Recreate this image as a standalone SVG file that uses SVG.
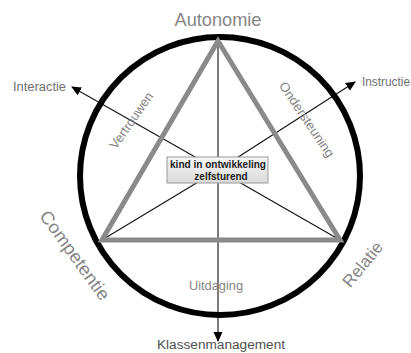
<svg xmlns="http://www.w3.org/2000/svg" width="411" height="353" viewBox="0 0 411 353">
<style>
.lbl{font-family:"Liberation Sans",Arial,sans-serif;fill:#858585;}
.big{font-size:18px;}
.mid{font-size:13px;}
.thin{stroke:#111;stroke-width:1.1;fill:none;}
.box{font-family:"Liberation Sans",Arial,sans-serif;font-weight:bold;font-size:10px;fill:#222;text-anchor:middle;}
</style>
<defs>
<marker id="ah" viewBox="0 0 10 10" refX="9" refY="5" markerWidth="10" markerHeight="10" markerUnits="userSpaceOnUse" orient="auto">
<path d="M0,0.5 L10,5 L0,9.5 Z" fill="#000"/>
</marker>
<linearGradient id="bg" x1="0" y1="0" x2="0" y2="1">
<stop offset="0" stop-color="#f7f7f7"/>
<stop offset="1" stop-color="#d9d9d9"/>
</linearGradient>
</defs>
<rect width="411" height="353" fill="#fff"/>
<g id="connectors">
<line class="thin" x1="218" y1="40" x2="218" y2="341" marker-end="url(#ah)"/>
<line class="thin" x1="218" y1="170" x2="72" y2="87" marker-end="url(#ah)"/>
<line class="thin" x1="218" y1="170" x2="355" y2="82" marker-end="url(#ah)"/>
<line class="thin" x1="218" y1="170" x2="102" y2="240"/>
<line class="thin" x1="218" y1="170" x2="340" y2="240"/>
</g>
<g id="circle">
<ellipse cx="220" cy="176" rx="140" ry="139" fill="none" stroke="#000" stroke-width="6"/>
</g>
<g id="triangle">
<polygon points="218,41 102,240 340,240" fill="none" stroke="#8a8a8a" stroke-width="5" stroke-linejoin="miter"/>
</g>
<g id="center">
<rect x="167" y="157" width="101" height="26" fill="url(#bg)" stroke="#9a9a9a" stroke-width="1"/>
<text class="box" x="218" y="168" textLength="96" lengthAdjust="spacingAndGlyphs">kind in ontwikkeling</text>
<text class="box" x="221" y="180">zelfsturend</text>
</g>
<g id="autonomie"><text class="lbl big" x="218" y="26" text-anchor="middle" textLength="87" lengthAdjust="spacingAndGlyphs">Autonomie</text></g>
<g id="competentie"><text class="lbl big" transform="translate(70,259) rotate(54)" text-anchor="middle" textLength="106" lengthAdjust="spacingAndGlyphs">Competentie</text></g>
<g id="relatie"><text class="lbl" font-size="17" transform="translate(367,268) rotate(-50.5)" text-anchor="middle" textLength="53" lengthAdjust="spacingAndGlyphs">Relatie</text></g>
<g id="vertrouwen"><text class="lbl mid" transform="translate(135,123) rotate(-55)" text-anchor="middle" textLength="66" lengthAdjust="spacingAndGlyphs">Vertrouwen</text></g>
<g id="ondersteuning"><text class="lbl mid" transform="translate(303,122) rotate(56)" text-anchor="middle" textLength="88" lengthAdjust="spacingAndGlyphs">Ondersteuning</text></g>
<g id="uitdaging"><text class="lbl mid" x="216" y="290" text-anchor="middle" textLength="54" lengthAdjust="spacingAndGlyphs">Uitdaging</text></g>
<g id="interactie"><text class="lbl" font-size="12" x="13" y="91" textLength="53" lengthAdjust="spacingAndGlyphs" style="fill:#707070">Interactie</text></g>
<g id="instructie"><text class="lbl" font-size="12" x="362" y="86" textLength="48" lengthAdjust="spacingAndGlyphs" style="fill:#707070">Instructie</text></g>
<g id="klassenmanagement"><text class="lbl" font-size="12" x="221" y="349" text-anchor="middle" textLength="128" lengthAdjust="spacingAndGlyphs" style="fill:#505050">Klassenmanagement</text></g>
</svg>
